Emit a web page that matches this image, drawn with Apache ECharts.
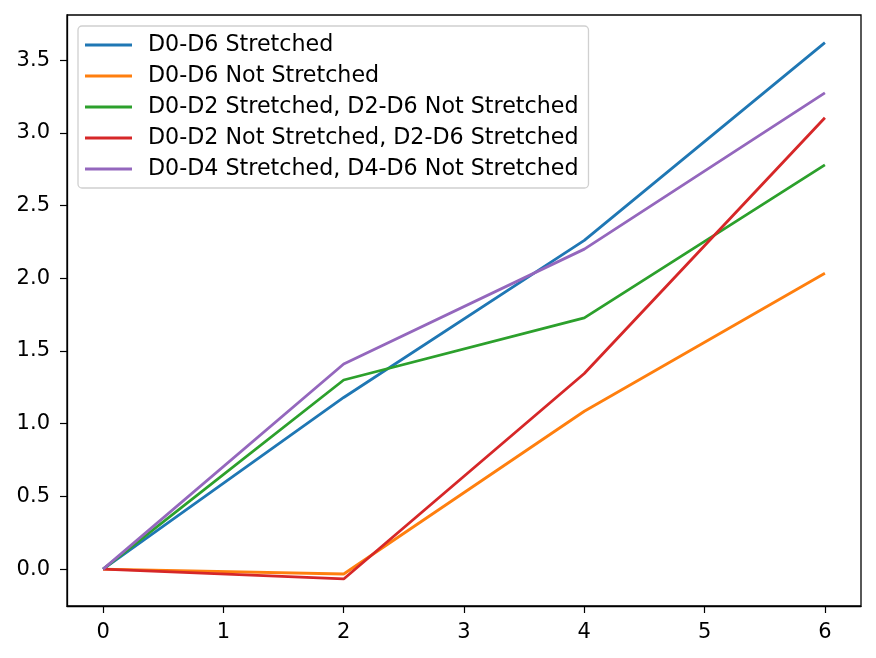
<!DOCTYPE html>
<html>
<head>
<meta charset="utf-8">
<script src="https://cdn.jsdelivr.net/npm/echarts@6/dist/echarts.min.js"></script>
<style>
  html, body { margin: 0; padding: 0; background: #fff; }
  #chart { width: 876px; height: 658px; }
</style>
</head>
<body>
<div id="chart"></div>
<script>
// days on the x axis
var days = [0, 2, 4, 6];

// series values
var names = [
  'D0-D6 Stretched',
  'D0-D6 Not Stretched',
  'D0-D2 Stretched, D2-D6 Not Stretched',
  'D0-D2 Not Stretched, D2-D6 Stretched',
  'D0-D4 Stretched, D4-D6 Not Stretched'
];
var allStretched = [0, 1.18, 2.26, 3.62];
var noneStretched = [0, -0.034, 1.085, 2.034];
var earlyStretched = [0, 1.30, 1.727, 2.779];
var lateStretched = [0, -0.068, 1.345, 3.104];
var firstFourStretched = [0, 1.41, 2.20, 3.275];

// tick labels
var xTicks = [0, 1, 2, 3, 4, 5, 6];
var yTicks = [0, 0.5, 1.0, 1.5, 2.0, 2.5, 3.0, 3.5];

var colors = ['#1f77b4', '#ff7f0e', '#2ca02c', '#d62728', '#9467bd'];
var values = [allStretched, noneStretched, earlyStretched, lateStretched, firstFourStretched];

var font = 'DejaVu Sans';

var chart = echarts.init(document.getElementById('chart'));

var series = values.map(function (vals, i) {
  return {
    name: names[i],
    type: 'line',
    symbol: 'none',
    animation: false,
    data: vals.map(function (v, j) { return [days[j], v]; }),
    lineStyle: { color: colors[i], width: 2.8 },
    itemStyle: { color: colors[i] }
  };
});

var option = {
  backgroundColor: '#fff',
  color: colors,
  animation: false,
  grid: {
    left: 67, right: 15, top: 15, bottom: 52,
    show: true, borderColor: '#000', borderWidth: 1.3
  },
  legend: {
    orient: 'vertical',
    left: 78, top: 26,
    padding: [8, 10, 8, 7],
    borderColor: '#d0d0d0', borderWidth: 1.3, borderRadius: 4,
    backgroundColor: 'rgba(255,255,255,0.8)',
    icon: 'rect',
    itemWidth: 47, itemHeight: 3, itemGap: 9,
    textStyle: { fontFamily: font, fontSize: 22.2, color: '#000', lineHeight: 22, padding: [0, 0, 0, 11] },
    data: names
  },
  xAxis: {
    type: 'value',
    min: -0.3, max: 6.3,
    splitLine: { show: false },
    axisLine: { show: true, onZero: false, lineStyle: { color: '#000', width: 1.3 } },
    axisTick: { show: true, length: 7, customValues: xTicks, lineStyle: { color: '#000', width: 1.2 } },
    axisLabel: {
      customValues: xTicks, margin: 16,
      fontFamily: font, fontSize: 21, color: '#000'
    }
  },
  yAxis: {
    type: 'value',
    min: -0.254, max: 3.81,
    splitLine: { show: false },
    axisLine: { show: true, onZero: false, lineStyle: { color: '#000', width: 1.3 } },
    axisTick: { show: true, length: 7, customValues: yTicks, lineStyle: { color: '#000', width: 1.2 } },
    axisLabel: {
      customValues: yTicks, margin: 17,
      fontFamily: font, fontSize: 21, color: '#000',
      formatter: function (v) { return v.toFixed(1); }
    }
  },
  series: series
};

chart.setOption(option);
</script>
</body>
</html>
